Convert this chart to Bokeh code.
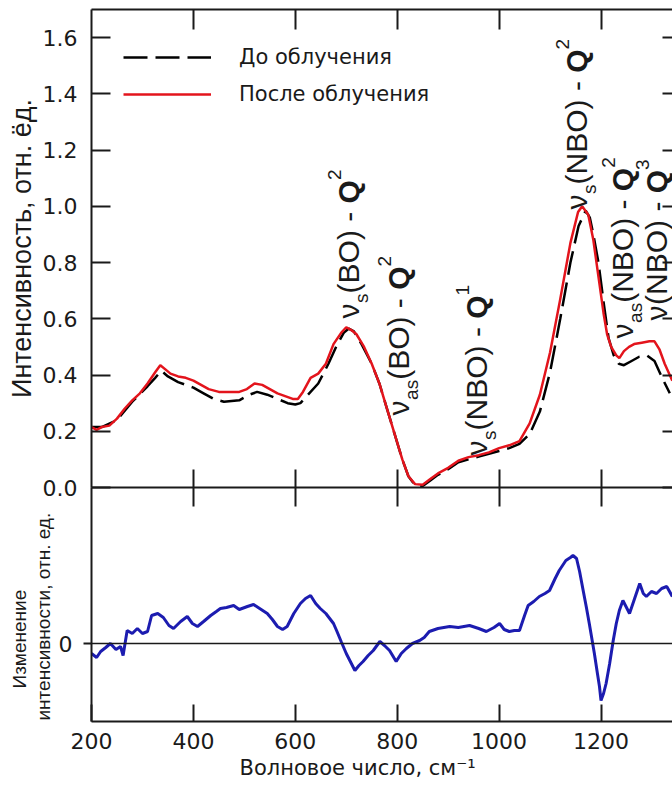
from math import pi
from bokeh.plotting import figure
from bokeh.layouts import column
from bokeh.models import (Range1d, FixedTicker, LinearAxis, Span, Label, Legend, Title,
                          LegendItem, NumeralTickFormatter, CustomJSTickFormatter)
from bokeh.embed import file_html
from bokeh.resources import INLINE

# ---------------- data ----------------
wn_after = [200, 210, 220, 235, 250, 265, 280, 295, 310, 325, 335, 345, 355, 370, 385, 400,
            415, 430, 450, 470, 490, 505, 520, 535, 550, 565, 580, 595, 605, 615, 630, 645,
            660, 675, 690, 700, 710, 720, 735, 750, 765, 780, 795, 810, 822, 835, 850, 865,
            880, 900, 920, 940, 960, 980, 1000, 1020, 1040, 1060, 1080, 1100, 1120, 1140,
            1155, 1163, 1175, 1185, 1195, 1205, 1212, 1220, 1230, 1236, 1245, 1255, 1265,
            1280, 1295, 1305, 1315, 1325, 1340]
after = [0.215, 0.205, 0.215, 0.22, 0.245, 0.28, 0.31, 0.335, 0.37, 0.41, 0.435, 0.42, 0.405,
         0.395, 0.39, 0.38, 0.365, 0.35, 0.34, 0.34, 0.34, 0.35, 0.37, 0.365, 0.35, 0.335,
         0.325, 0.315, 0.315, 0.34, 0.39, 0.405, 0.44, 0.51, 0.55, 0.57, 0.56, 0.545, 0.5,
         0.44, 0.37, 0.28, 0.19, 0.10, 0.04, 0.012, 0.01, 0.03, 0.05, 0.07, 0.095, 0.108,
         0.115, 0.125, 0.14, 0.15, 0.165, 0.228, 0.33, 0.48, 0.67, 0.87, 0.98, 1.0, 0.97,
         0.88, 0.75, 0.62, 0.545, 0.50, 0.47, 0.46, 0.485, 0.50, 0.51, 0.515, 0.52, 0.52,
         0.49, 0.44, 0.38]

wn_before = [200, 220, 250, 280, 310, 325, 337, 350, 370, 400, 420, 440, 460, 490, 510, 525,
             545, 565, 585, 600, 610, 625, 645, 665, 680, 695, 705, 715, 730, 750, 765, 780,
             795, 810, 822, 835, 850, 865, 880, 900, 920, 940, 960, 980, 1000, 1020, 1040,
             1060, 1080, 1100, 1120, 1140, 1156, 1170, 1178, 1185, 1195, 1205, 1215, 1225,
             1235, 1245, 1260, 1275, 1290, 1305, 1320, 1335]
before = [0.215, 0.215, 0.24, 0.305, 0.36, 0.39, 0.415, 0.395, 0.375, 0.355, 0.335, 0.315,
          0.305, 0.31, 0.33, 0.34, 0.33, 0.315, 0.30, 0.295, 0.30, 0.33, 0.37, 0.44, 0.50,
          0.55, 0.565, 0.555, 0.51, 0.44, 0.37, 0.28, 0.19, 0.10, 0.04, 0.008, 0.005, 0.025,
          0.045, 0.065, 0.09, 0.10, 0.11, 0.12, 0.13, 0.14, 0.155, 0.19, 0.27, 0.41, 0.60,
          0.80, 0.93, 0.985, 0.96, 0.90, 0.80, 0.66, 0.53, 0.47, 0.44, 0.435, 0.45, 0.465,
          0.47, 0.45, 0.39, 0.335]

wn_diff = [200, 210, 218, 228, 237, 248, 257, 262, 270, 280, 290, 300, 310, 318, 330, 341,
           352, 361, 375, 388, 398, 408, 420, 434, 445, 453, 465, 479, 490, 506, 518, 530,
           545, 555, 565, 575, 584, 597, 610, 620, 630, 640, 649, 660, 675, 681, 690, 700,
           710, 717, 725, 733, 743, 753, 766, 775, 785, 798, 808, 818, 830, 844, 853, 863,
           880, 903, 920, 942, 960, 975, 990, 1001, 1010, 1020, 1030, 1040, 1050, 1057, 1068,
           1079, 1090, 1099, 1110, 1118, 1131, 1140, 1145, 1152, 1158, 1165, 1171, 1177,
           1187, 1193, 1197, 1200, 1205, 1210, 1217, 1224, 1230, 1236, 1243, 1250, 1256,
           1266, 1276, 1283, 1289, 1299, 1309, 1319, 1329, 1340]
diff = [-0.010, -0.014, -0.008, -0.004, 0.000, -0.006, -0.003, -0.012, 0.013, 0.010, 0.015,
        0.010, 0.012, 0.028, 0.030, 0.026, 0.018, 0.015, 0.022, 0.027, 0.020, 0.017, 0.022,
        0.028, 0.032, 0.035, 0.036, 0.038, 0.034, 0.037, 0.039, 0.035, 0.030, 0.024, 0.017,
        0.014, 0.017, 0.030, 0.040, 0.045, 0.048, 0.040, 0.035, 0.030, 0.020, 0.013, 0.002,
        -0.010, -0.020, -0.027, -0.022, -0.018, -0.012, -0.007, 0.002, -0.002, -0.007,
        -0.018, -0.010, -0.005, 0.000, 0.003, 0.006, 0.012, 0.015, 0.017, 0.016, 0.018,
        0.015, 0.012, 0.016, 0.020, 0.014, 0.012, 0.013, 0.013, 0.028, 0.038, 0.042, 0.047,
        0.050, 0.053, 0.065, 0.073, 0.083, 0.086, 0.088, 0.085, 0.072, 0.053, 0.037, 0.020,
        -0.010, -0.030, -0.043, -0.057, -0.050, -0.040, -0.020, 0.003, 0.020, 0.033, 0.043,
        0.036, 0.030, 0.045, 0.060, 0.050, 0.047, 0.052, 0.050, 0.055, 0.057, 0.047]

x_ticks = [200, 400, 600, 800, 1000, 1200]
y_ticks_top = [0.0, 0.2, 0.4, 0.6, 0.8, 1.0, 1.2, 1.4, 1.6]
y_ticks_bottom = [0]

legend_labels = ["До облучения", "После облучения"]
y_label_top = "Интенсивность, отн. ёд."
y_label_bottom = ["Изменение", "интенсивности, отн. ед."]
x_label = "Волновое число, см\u207b\u00b9"

# annotations: (subscript, group, Q superscript)
ann_text = [("s", "BO", "2"), ("as", "BO", "2"), ("s", "NBO", "1"),
            ("s", "NBO", "2"), ("as", "NBO", "2"), ("", "NBO", "3")]

# ---------------- layout / style ----------------
W, H = 672, 786
FL, FR = 91, 672          # frame left/right in page px
TOP_T, TOP_B = 9, 487     # top frame
BOT_B = 721               # bottom frame bottom
OVER = 12                 # top canvas reaches under the bottom panel by this much
XMIN = 200
XMAX = XMIN + (FR - FL) / 0.5095
YTOP_MAX = 1.7
B_LO, B_HI = -0.078, 0.156

INK = "#1a1a1a"
HFONT = "DejaVu Sans"
VFONT = "Liberation Sans"

x_range = Range1d(XMIN, XMAX)
blank = CustomJSTickFormatter(code="return ''")


def xd(px):
    return XMIN + (px - FL) * (XMAX - XMIN) / (FR - FL)


def yd_top(py):
    return (TOP_B - py) * YTOP_MAX / (TOP_B - TOP_T)


def style_axis(ax, tin, tout=0, labels=True, line=True, size="22px", standoff=8):
    ax.major_tick_in = tin
    ax.major_tick_out = tout
    ax.minor_tick_line_color = None
    ax.major_tick_line_width = 2
    ax.major_tick_line_color = INK
    ax.axis_line_width = 2
    ax.axis_line_color = INK if line else None
    if labels:
        ax.major_label_text_font = HFONT
        ax.major_label_text_font_size = size
        ax.major_label_text_color = INK
        ax.major_label_standoff = standoff
    else:
        ax.formatter = blank
        ax.major_label_text_font_size = "1px"
        ax.major_label_standoff = 0


top = figure(width=W, height=TOP_B + OVER, x_range=x_range, y_range=Range1d(0, YTOP_MAX),
             output_backend="svg", toolbar_location=None,
             x_axis_location=None, y_axis_location=None,
             min_border_left=FL, min_border_right=0, min_border_top=TOP_T,
             min_border_bottom=OVER)
top.grid.visible = False
top.outline_line_color = None

ax = LinearAxis(ticker=FixedTicker(ticks=y_ticks_top), formatter=NumeralTickFormatter(format="0.0"),
                axis_label=y_label_top, axis_label_standoff=3,
                axis_label_text_font=VFONT, axis_label_text_font_size="27px",
                axis_label_text_font_style="normal", axis_label_text_color=INK)
style_axis(ax, 19, standoff=14)
top.add_layout(ax, "left")
ax = LinearAxis(ticker=FixedTicker(ticks=y_ticks_top))
style_axis(ax, 10, labels=False, line=False)
top.add_layout(ax, "right")
ax = LinearAxis(ticker=FixedTicker(ticks=x_ticks[1:]))
style_axis(ax, 20, labels=False)
top.add_layout(ax, "above")
ax = LinearAxis(ticker=FixedTicker(ticks=x_ticks[1:]))
style_axis(ax, 18, labels=False)
top.add_layout(ax, "below")

r_before = top.line(wn_before, before, line_color="black", line_width=2.5, line_dash="24 8")
r_after = top.line(wn_after, after, line_color="#e3141c", line_width=2.5)

legend = Legend(items=[LegendItem(label=legend_labels[0], renderers=[r_before]),
                       LegendItem(label=legend_labels[1], renderers=[r_after])],
                location="top_left", margin=32, padding=0, spacing=5,
                glyph_width=88, glyph_height=32, label_height=32, label_standoff=28,
                border_line_color=None, background_fill_alpha=0,
                label_text_font=HFONT, label_text_font_size="21px", label_text_color=INK)
top.add_layout(legend)

# vertical peak annotations
AW = {"ν": 0.52, "s": 0.5, "a": 0.556, "(": 0.333, ")": 0.333, "B": 0.667, "N": 0.722,
      "O": 0.778, " ": 0.278, "-": 0.333, "Q": 0.778, "1": 0.556, "2": 0.556, "3": 0.556}
MAIN, SMALL = 30, 19
ann_pos = [(348, 318), (398, 415), (476, 455), (576, 209), (622, 338), (656, 320)]


def text_len(t, size):
    return sum(AW.get(c, 0.55) for c in t) * size


for (sub, grp, sup), (xc, y0) in zip(ann_text, ann_pos):
    pieces = [("ν", MAIN, "normal", 0), (sub, SMALL, "normal", 13),
              ("(%s) - " % grp, MAIN, "normal", 0), ("Q", MAIN, "bold", 0),
              (sup, SMALL, "normal", -14)]
    y = y0
    for txt, sz, st, dx in pieces:
        if not txt:
            continue
        top.add_layout(Label(x=xd(xc + dx), y=yd_top(y), text=txt, angle=pi / 2,
                             text_align="left", text_baseline="middle", text_font=VFONT,
                             text_font_size="%dpx" % sz, text_font_style=st, text_color=INK))
        y -= text_len(txt, sz)

# ---------------- bottom panel ----------------
bot = figure(width=W, height=H - TOP_B, x_range=x_range, y_range=Range1d(B_LO, B_HI),
             output_backend="svg", toolbar_location=None,
             x_axis_location=None, y_axis_location=None,
             min_border_left=FL, min_border_right=0, min_border_top=0,
             min_border_bottom=H - BOT_B)
bot.grid.visible = False
bot.outline_line_color = None
bot.border_fill_alpha = 0
bot.background_fill_alpha = 0
bot.margin = (-OVER, 0, 0, 0)

ax = LinearAxis(ticker=FixedTicker(ticks=y_ticks_bottom))
style_axis(ax, 0, tout=8, standoff=11)
bot.add_layout(ax, "left")
ax = LinearAxis(ticker=FixedTicker(ticks=[]))
style_axis(ax, 0, labels=False, line=False)
bot.add_layout(ax, "right")
ax = LinearAxis(ticker=FixedTicker(ticks=x_ticks[1:]))
style_axis(ax, 19, labels=False, line=False)
bot.add_layout(ax, "above")
ax = LinearAxis(ticker=FixedTicker(ticks=x_ticks))
style_axis(ax, 17, standoff=11)
bot.add_layout(ax, "below")
bot.add_layout(Title(text=x_label, align="left", offset=148, standoff=4,
                     text_font=HFONT, text_font_size="21px", text_font_style="normal",
                     text_color=INK), "below")
bot.add_layout(Title(text=y_label_bottom[1], align="left", offset=1, standoff=2,
                     vertical_align="middle", text_font=VFONT, text_font_size="19px",
                     text_font_style="normal", text_color=INK), "left")
bot.add_layout(Title(text=y_label_bottom[0], align="left", offset=33, standoff=0,
                     vertical_align="middle", text_font=VFONT, text_font_size="19px",
                     text_font_style="normal", text_color=INK), "left")

bot.add_layout(Span(location=0, dimension="width", line_color=INK, line_width=1.5))
bot.line(wn_diff, diff, line_color="#1c1cb0", line_width=3)

layout = column(top, bot, spacing=0)
open("out.html", "w").write(file_html(layout, INLINE))
